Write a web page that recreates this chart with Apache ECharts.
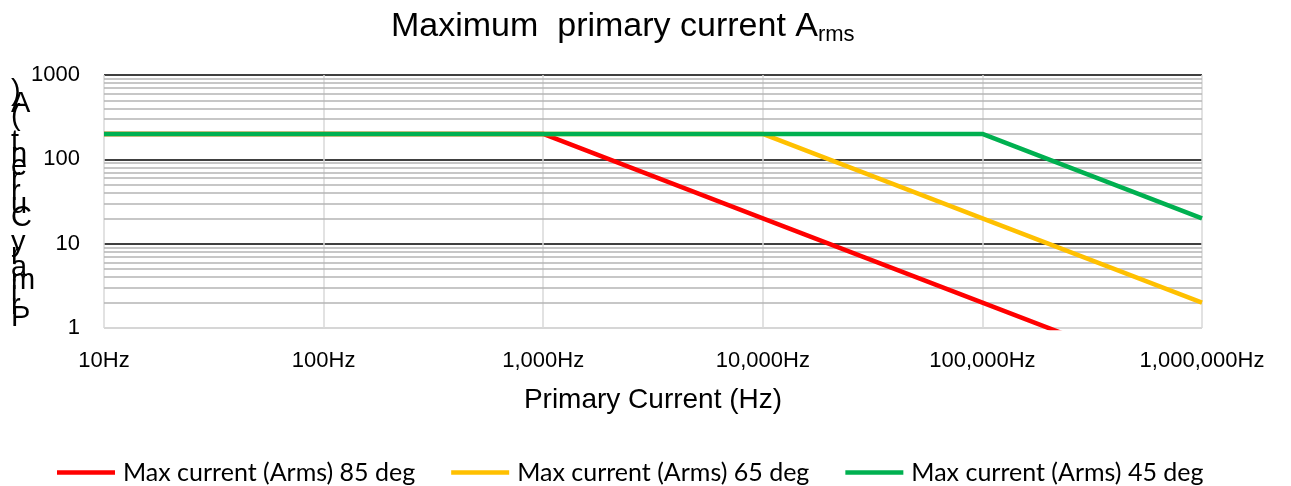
<!DOCTYPE html>
<html>
<head>
<meta charset="utf-8">
<script src="https://cdn.jsdelivr.net/npm/echarts@6/dist/echarts.min.js"></script>
</head>
<body style="margin:0;width:1291px;height:486px;background:#fff">
<div id="container" style="width:1291px;height:486px"></div>
<script>
var freq = [10, 100, 1000, 10000, 100000, 1000000];
var names = ['Max current (Arms) 85 deg', 'Max current (Arms) 65 deg', 'Max current (Arms) 45 deg'];
var deg85 = [200, 200, 200, 20, 2, 0.2];
var deg65 = [200, 200, 200, 200, 20, 2];
var deg45 = [200, 200, 200, 200, 200, 20];
var colors = ['#ff0000', '#ffc000', '#00b050'];
var yTicks = [1, 10, 100, 1000];

// minor grid lines at 2..9 of every decade
var minorLines = [];
for (var d = 1; d < 1000; d *= 10) {
  for (var k = 2; k <= 9; k++) minorLines.push({ yAxis: k * d });
}

function pairs(vals) {
  return freq.map(function (f, i) { return [f, vals[i]]; });
}

// the original y title is stacked letter by letter, bottom to top
var yLabel = 'Primary Current (A)'.split('').reverse().join('\n');

var chart = echarts.init(document.getElementById('container'));
var option = {
  animation: false,
  title: {
    text: '{a|Maximum  primary current A}{b|rms}',
    left: 386,
    top: 3,
    textStyle: {
      rich: {
        a: { fontFamily: 'Liberation Sans', fontSize: 34, fontWeight: 'normal', color: '#000' },
        b: { fontFamily: 'Liberation Sans', fontSize: 22, fontWeight: 'normal', color: '#000', verticalAlign: 'bottom', padding: [16, 0, 0, 0] }
      }
    }
  },
  graphic: [{
    type: 'text',
    left: 11,
    top: 77,
    style: {
      text: yLabel,
      font: '29px "Liberation Sans"',
      lineHeight: 12.6,
      fill: '#000'
    }
  }],
  legend: {
    data: names,
    top: 455,
    left: 52,
    icon: 'rect',
    itemWidth: 58,
    itemHeight: 4.5,
    itemGap: 36,
    textStyle: { fontFamily: 'Lato', fontSize: 25, color: '#000', padding: [0, 0, 0, 3] }
  },
  grid: { left: 104, right: 89, top: 75, bottom: 158, containLabel: false },
  xAxis: {
    type: 'log',
    logBase: 10,
    min: 10,
    max: 1000000,
    name: 'Primary Current (Hz)',
    nameLocation: 'middle',
    nameGap: 58,
    nameTextStyle: { fontFamily: 'Liberation Sans', fontSize: 28, color: '#000' },
    axisLine: { show: false },
    axisTick: { show: false },
    axisLabel: {
      margin: 22,
      fontFamily: 'Liberation Sans',
      fontSize: 22,
      color: '#000',
      formatter: function (v) { return Math.round(v).toLocaleString('en-US') + 'Hz'; }
    },
    splitLine: { show: true, lineStyle: { color: '#d9d9d9', width: 1.5 } }
  },
  yAxis: {
    type: 'log',
    logBase: 10,
    min: 1,
    max: 1000,
    axisLine: { show: false },
    axisTick: { show: false },
    axisLabel: {
      margin: 24,
      fontFamily: 'Liberation Sans',
      fontSize: 22,
      color: '#000',
      formatter: function (v) {
        var r = Math.round(v);
        return yTicks.indexOf(r) >= 0 ? String(r) : '';
      }
    },
    splitLine: { show: true, lineStyle: { color: ['#c8c8c8', '#000', '#000', '#000'], width: 1.5 } }
  },
  series: [{
    name: 'minor',
    type: 'line',
    data: [],
    silent: true,
    z: 1,
    markLine: {
      silent: true,
      symbol: 'none',
      z: 1,
      label: { show: false },
      lineStyle: { color: '#b4b4b4', width: 1.5, type: 'solid' },
      data: minorLines
    }
  }, {
    name: names[0],
    type: 'line',
    data: pairs(deg85),
    showSymbol: false,
    clip: true,
    z: 3,
    color: colors[0],
    lineStyle: { width: 4.5 }
  }, {
    name: names[1],
    type: 'line',
    data: pairs(deg65),
    showSymbol: false,
    clip: true,
    z: 4,
    color: colors[1],
    lineStyle: { width: 4.5 }
  }, {
    name: names[2],
    type: 'line',
    data: pairs(deg45),
    showSymbol: false,
    clip: true,
    z: 5,
    color: colors[2],
    lineStyle: { width: 4.5 }
  }]
};
chart.setOption(option);
</script>
</body>
</html>
